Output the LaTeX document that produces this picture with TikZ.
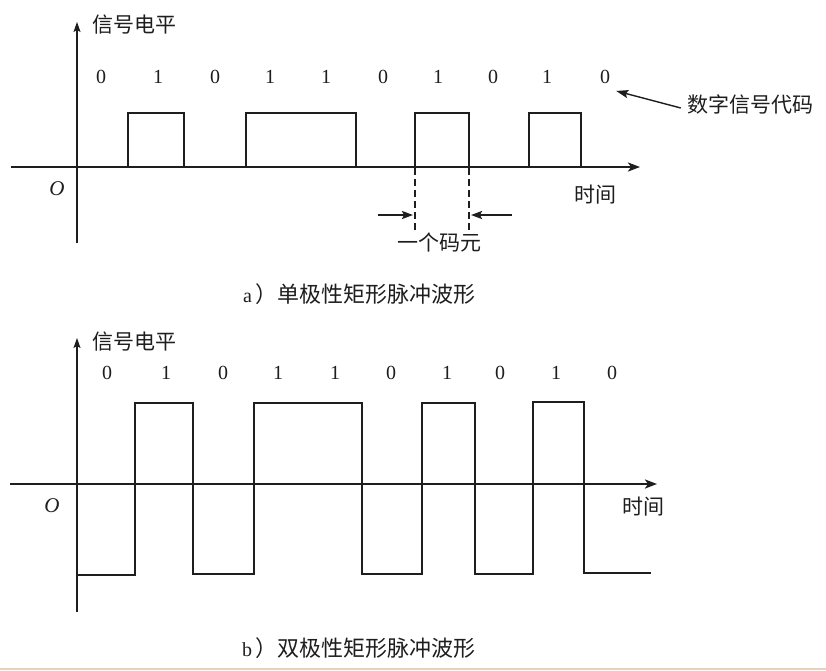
\documentclass[tikz,border=0pt]{standalone}
\usepackage{fontspec}
\setmainfont{Liberation Serif}
\newfontfamily\cjk{Noto Sans CJK SC}
\usetikzlibrary{arrows.meta}
\definecolor{beige}{RGB}{227,212,186}
\definecolor{ink}{RGB}{30,30,30}
\begin{document}
\begin{tikzpicture}[x=1pt,y=-1pt,
  axisx/.style={draw=ink,line width=2.2pt,-{Stealth[length=12pt,width=9pt,inset=3pt]}},
  axisy/.style={draw=ink,line width=1.3pt,-{Stealth[length=10pt,width=7pt,inset=2pt]}},
  wave/.style={draw=ink,line width=2.4pt,line join=miter},
  dashline/.style={draw=ink,line width=2pt,dash pattern=on 7pt off 4pt},
  measure/.style={draw=ink,line width=2pt,-{Stealth[length=11pt,width=8pt,inset=2pt]}},
  pointer/.style={draw=ink,line width=1.4pt,-{Stealth[length=12pt,width=8pt,inset=2pt]}},
  digit/.style={font=\fontsize{20}{22}\selectfont,text=ink,inner sep=0pt},
  zh/.style={font=\cjk\fontsize{21}{25}\selectfont,text=ink,inner sep=0pt},
  caption/.style={font=\cjk\fontsize{22}{25}\selectfont,text=ink,inner sep=0pt},
  origin/.style={font=\fontsize{21}{24}\selectfont\itshape,text=ink,inner sep=0pt}]
\useasboundingbox (0,0) rectangle (826,670);
\fill[white] (0,0) rectangle (826,670);
\fill[beige] (0,667.5) rectangle (826,670);

% ---------- panel a ----------
\coordinate (ax0) at (11,167);
\coordinate (ax1) at (640,167);
\coordinate (ay0) at (77,243);
\coordinate (ay1) at (77,22);
\draw[axisx] (ax0) -- (ax1);
\draw[axisy] (ay0) -- (ay1);
\node[zh,anchor=west] (alvl) at (92,25) {信号电平};
\node[origin] (aO) at (57,189) {O};
\node[zh] (atime) at (595,195) {时间};
\foreach \i/\x/\b in {1/101/0,2/158/1,3/215/0,4/270/1,5/326/1,6/383/0,7/438/1,8/493/0,9/547/1,10/605/0}{
  \node[digit] (d\i) at (\x,77) {\b};
}
\draw[wave] (128,167) -- (128,113) -- (184,113) -- (184,167) -- (246,167) -- (246,113)
  -- (356,113) -- (356,167) -- (415,167) -- (415,113) -- (469,113) -- (469,167)
  -- (529,167) -- (529,113) -- (581,113) -- (581,167);
\coordinate (dl1) at (415,168);
\coordinate (dl1b) at (415,232);
\coordinate (dl2) at (469,168);
\coordinate (dl2b) at (469,232);
\draw[dashline] (dl1) -- (dl1b);
\draw[dashline] (dl2) -- (dl2b);
\coordinate (m1s) at (378,215);
\coordinate (m1e) at (413,215);
\coordinate (m2s) at (512,215);
\coordinate (m2e) at (471,215);
\draw[measure] (m1s) -- (m1e);
\draw[measure] (m2s) -- (m2e);
\node[zh] (unit) at (439,242) {一个码元};
\node[zh] (code) at (750,104) {数字信号代码};
\draw[pointer] (code.west) ++(-6,4) coordinate (pstart) (pstart) -- ([xshift=6pt,yshift=-7pt]d10.south east);
\node[caption,anchor=west] (capa) at (243,294) {{\fontsize{20}{22}\selectfont\rmfamily a}\,）单极性矩形脉冲波形};

% ---------- panel b ----------
\coordinate (bx0) at (10,484);
\coordinate (bx1) at (657,484);
\coordinate (by0) at (77,612);
\coordinate (by1) at (77,338);
\draw[axisx] (bx0) -- (bx1);
\draw[axisy] (by0) -- (by1);
\node[zh,anchor=west] (blvl) at (92,342) {信号电平};
\node[origin] (bO) at (52,506) {O};
\node[zh] (btime) at (643,507) {时间};
\foreach \i/\x/\b in {1/107/0,2/166/1,3/223/0,4/278/1,5/335/1,6/391/0,7/447/1,8/500/0,9/556/1,10/612/0}{
  \node[digit] (e\i) at (\x,373) {\b};
}
\draw[wave] (77,575) -- (135,575) -- (135,403) -- (193,403) -- (193,574) -- (254,574)
  -- (254,403) -- (362,403) -- (362,574) -- (422,574) -- (422,403) -- (475,403)
  -- (475,574) -- (533,574) -- (533,402) -- (584,402) -- (584,573) -- (651,573);
\node[caption,anchor=west] (capb) at (242,648) {{\fontsize{20}{22}\selectfont\rmfamily b}\,）双极性矩形脉冲波形};
\end{tikzpicture}
\end{document}
